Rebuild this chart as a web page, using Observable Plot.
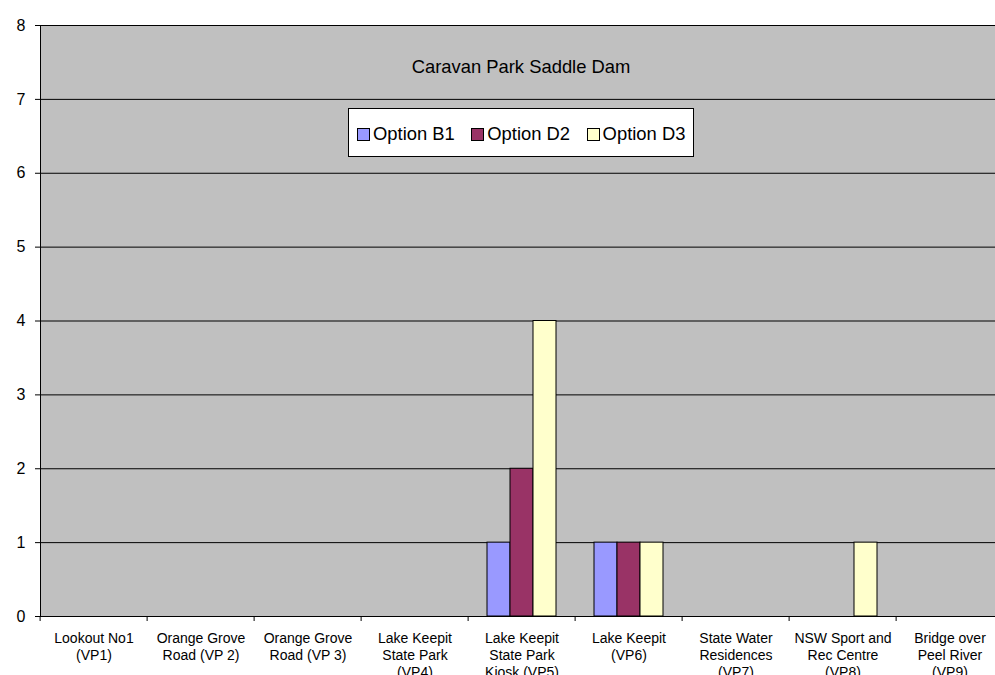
<!DOCTYPE html>
<html>
<head>
<meta charset="utf-8">
<script src="https://cdn.jsdelivr.net/npm/d3@7"></script>
<script src="https://cdn.jsdelivr.net/npm/@observablehq/plot@0.6"></script>
<style>
  html, body { margin: 0; padding: 0; overflow: hidden; background: #fff; }
  #chart { position: relative; width: 1006px; height: 675px; overflow: hidden;
           font-family: "Liberation Sans", Arial, sans-serif; color: #000; }
  #title { position: absolute; left: 36px; width: 970px; top: 57px; text-align: center;
           font-size: 18.4px; line-height: 20px; }
  #legend { position: absolute; left: 348px; top: 108px; width: 346px; height: 49px;
            box-sizing: border-box; border: 1px solid #000; background: #fff;
            display: flex; align-items: center; padding: 4px 0 0 8px;
            font-size: 18.4px; line-height: 18.4px; }
  #legend .item { display: flex; align-items: center; margin-right: 16.5px; white-space: nowrap; }
  #legend .sw { width: 13px; height: 13px; box-sizing: border-box; border: 1px solid #000; margin-right: 3px; }
</style>
</head>
<body>
<div id="chart"></div>
<script>
// Viewpoints along the x axis
const sites = [
  "Lookout No1 (VP1)",
  "Orange Grove Road (VP 2)",
  "Orange Grove Road (VP 3)",
  "Lake Keepit State Park (VP4)",
  "Lake Keepit State Park Kiosk (VP5)",
  "Lake Keepit (VP6)",
  "State Water Residences (VP7)",
  "NSW Sport and Rec Centre (VP8)",
  "Bridge over Peel River (VP9)"
];
// Wrapped tick labels, one per viewpoint
const siteLabels = [
  "Lookout No1\n(VP1)",
  "Orange Grove\nRoad (VP 2)",
  "Orange Grove\nRoad (VP 3)",
  "Lake Keepit\nState Park\n(VP4)",
  "Lake Keepit\nState Park\nKiosk (VP5)",
  "Lake Keepit\n(VP6)",
  "State Water\nResidences\n(VP7)",
  "NSW Sport and\nRec Centre\n(VP8)",
  "Bridge over\nPeel River\n(VP9)"
];
const series = ["Option B1", "Option D2", "Option D3"];
const seriesColors = ["#9999FF", "#993366", "#FFFFCC"];
const optionB1 = [0, 0, 0, 0, 1, 1, 0, 0, 0];
const optionD2 = [0, 0, 0, 0, 2, 1, 0, 0, 0];
const optionD3 = [0, 0, 0, 0, 4, 1, 0, 1, 0];
const yTicks = [0, 1, 2, 3, 4, 5, 6, 7, 8];
const chartTitle = "Caravan Park Saddle Dam";

const seriesValues = [optionB1, optionD2, optionD3];
const rows = sites.flatMap((site, i) =>
  series.map((s, j) => ({site, series: s, value: seriesValues[j][i]}))
);
const labelOf = new Map(sites.map((s, i) => [s, siteLabels[i]]));

const width = 1006, height = 690;
const marginLeft = 36, marginRight = 0, marginTop = 25, marginBottom = 74;
const bandW = (width - marginLeft - marginRight) / sites.length;

const plot = Plot.plot({
  width, height, marginLeft, marginRight, marginTop, marginBottom,
  style: {fontFamily: "'Liberation Sans', Arial, sans-serif", color: "black", background: "transparent", overflow: "visible"},
  fx: {domain: sites, padding: 0, label: null},
  x: {domain: series, paddingInner: 0, paddingOuter: 0.744, axis: null},
  y: {domain: [0, 8], label: null},
  color: {domain: series, range: seriesColors},
  marks: [
    // one gray panel spanning every viewpoint
    Plot.frame({fill: "#C0C0C0", facet: "super"}),
    Plot.ruleY(yTicks, {stroke: "black"}),
    // outline of the whole plot area (gives the left axis line)
    Plot.frame({stroke: "black", facet: "super"}),
    Plot.barY(rows, {
      fx: "site", x: "series", y: "value", fill: "series",
      stroke: "black", strokeWidth: 1, filter: (d) => d.value > 0
    }),
    Plot.axisY({ticks: yTicks, tickFormat: "d", tickSize: 5, tickPadding: 10, fontSize: 16, label: null}),
    // category separators below the axis
    Plot.axisFx({anchor: "bottom", tickSize: 5, tickFormat: () => "", dx: -bandW / 2, label: null}),
    Plot.axisFx({
      anchor: "bottom", tickSize: 0, tickPadding: 15, fontSize: 14, lineHeight: 1.19,
      tickFormat: (d) => labelOf.get(d), label: null
    })
  ]
});

const chart = document.getElementById("chart");
chart.appendChild(plot);

const title = document.createElement("div");
title.id = "title";
title.textContent = chartTitle;
chart.appendChild(title);

const legend = document.createElement("div");
legend.id = "legend";
series.forEach((s, i) => {
  const item = document.createElement("div");
  item.className = "item";
  const sw = document.createElement("span");
  sw.className = "sw";
  sw.style.background = seriesColors[i];
  const label = document.createElement("span");
  label.textContent = s;
  item.appendChild(sw);
  item.appendChild(label);
  legend.appendChild(item);
});
chart.appendChild(legend);
</script>
</body>
</html>
